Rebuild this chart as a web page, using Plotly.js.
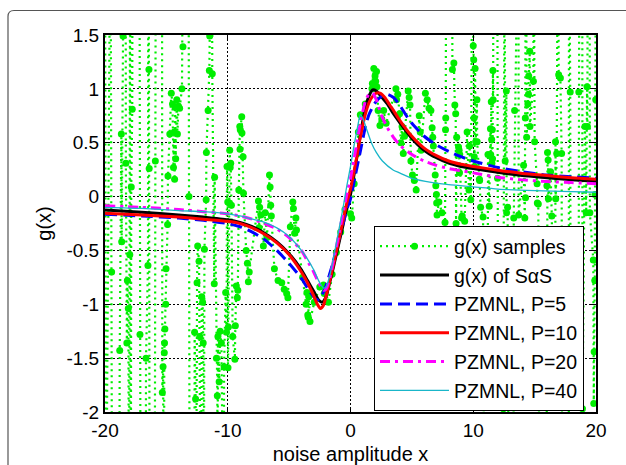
<!DOCTYPE html>
<html>
<head>
<meta charset="utf-8">
<script src="https://cdn.plot.ly/plotly-3.0.1.min.js"></script>
<style>html,body{margin:0;padding:0;background:#fff;}#chart{width:626px;height:465px;}</style>
</head>
<body>
<div id="chart"></div>
<script>
// ---- data ----
const sampleX = [-20.00,-19.92,-19.55,-19.46,-19.42,-18.85,-18.80,-18.67,-18.64,-18.53,-18.45,-18.32,-18.30,-18.22,-18.18,-18.10,-18.04,-17.98,-17.95,-17.90,-17.86,-17.78,-17.75,-17.20,-17.15,-17.10,-16.68,-16.66,-16.50,-16.47,-16.42,-16.40,-16.36,-15.95,-15.90,-15.86,-15.36,-15.33,-15.27,-15.20,-15.17,-15.15,-15.12,-15.05,-15.03,-14.90,-14.87,-14.72,-14.60,-14.50,-14.42,-14.36,-14.33,-14.28,-14.24,-14.15,-14.10,-14.02,-13.92,-13.73,-13.65,-13.62,-13.20,-13.16,-13.10,-12.72,-12.70,-12.62,-12.58,-12.50,-12.45,-12.34,-12.28,-12.18,-12.12,-12.05,-12.00,-11.95,-11.90,-11.76,-11.74,-11.60,-11.50,-11.47,-11.44,-11.30,-11.26,-11.10,-11.07,-10.92,-10.85,-10.83,-10.80,-10.70,-10.62,-10.52,-10.48,-10.32,-10.30,-10.17,-10.10,-10.06,-10.00,-9.98,-9.95,-9.88,-9.84,-9.80,-9.76,-9.70,-9.60,-9.42,-9.38,-9.30,-9.22,-9.18,-9.10,-9.02,-9.00,-8.98,-8.86,-8.84,-8.75,-8.72,-8.50,-8.40,-8.32,-8.25,-7.50,-7.45,-7.40,-7.30,-7.10,-6.95,-6.80,-6.60,-6.55,-6.50,-6.45,-6.20,-5.90,-5.60,-5.40,-5.20,-5.10,-4.90,-4.70,-4.65,-4.55,-4.45,-4.40,-3.90,-3.62,-3.55,-3.48,-3.44,-3.40,-3.30,-2.95,-2.50,-2.20,-2.14,-2.05,-1.80,-1.50,-1.15,-0.80,-0.45,0.00,0.10,0.30,0.55,0.64,0.80,1.20,1.75,1.78,1.90,2.00,2.05,2.12,2.15,2.25,2.40,2.55,2.70,2.90,3.70,3.75,3.85,4.00,4.10,4.20,4.30,4.40,4.70,4.78,4.85,4.92,5.05,5.20,5.35,5.60,5.68,5.75,6.10,6.25,6.40,6.55,6.65,6.70,6.75,6.90,6.95,7.00,7.02,7.05,7.20,7.45,7.70,7.74,7.76,7.80,8.28,8.30,8.42,8.50,8.57,8.60,8.65,8.80,8.85,8.88,8.90,9.05,9.10,9.30,9.50,9.65,9.70,9.80,9.95,10.00,10.04,10.06,10.08,10.10,10.15,10.20,10.30,10.32,10.50,10.52,10.60,10.80,10.90,11.15,11.20,11.30,11.40,11.42,11.47,11.50,11.52,11.55,11.57,11.60,11.62,11.65,11.95,11.98,12.05,12.42,12.45,12.55,12.60,12.70,12.72,12.80,12.90,13.28,13.30,13.37,13.42,13.68,13.70,14.10,14.20,14.24,14.26,14.30,14.35,14.45,14.50,14.52,14.60,14.62,14.90,14.92,15.00,15.20,15.22,15.30,15.40,15.95,16.00,16.05,16.10,16.12,16.30,16.40,16.65,16.70,16.72,16.80,16.90,16.96,17.10,17.20,17.25,17.78,17.80,17.90,17.95,18.55,18.60,18.65,18.88,18.90,19.10,19.20,19.27,19.30,19.32,19.48,19.50,19.78,19.82,19.85,19.90,19.92,19.98,20.00];
const sampleY = [3.0,-3.5,3.0,-0.70,-3.5,-3.5,-1.43,0.58,-0.42,1.49,3.0,3.0,0.31,-1.36,-0.78,-1.04,-3.5,-0.54,3.0,-3.5,0.09,0.81,3.0,3.0,-1.28,-3.5,-3.5,-1.50,-0.64,3.0,1.18,0.26,-3.5,-3.5,0.33,3.0,3.0,-1.82,-1.58,-3.5,-1.45,-1.36,-1.23,-1.00,-0.67,-0.26,0.19,0.58,0.96,0.86,0.27,0.60,0.16,0.83,0.35,0.90,0.58,0.84,0.82,1.00,1.39,3.0,3.0,0.00,-3.5,-3.5,-1.26,-1.88,-3.5,-0.80,-0.46,-0.60,-1.30,-3.5,-0.93,-0.98,-1.36,-3.5,-0.49,-0.03,0.41,0.80,1.17,1.49,3.0,3.0,1.14,-0.81,0.18,-1.50,-1.85,-3.5,-1.30,-1.72,-1.25,-1.36,-3.5,-3.5,-1.58,-0.89,-1.26,0.28,-0.05,-1.59,-1.21,-0.06,0.43,0.27,0.31,-0.08,-1.30,-1.51,-1.20,-0.83,-0.94,-0.87,0.06,0.65,0.44,0.62,0.74,0.59,0.37,0.03,-0.50,-0.62,-0.79,-0.70,-0.04,-0.29,-0.10,-0.17,-0.46,-0.15,-0.38,0.20,0.09,-0.08,-0.18,-0.67,-0.78,-0.80,-0.86,-0.90,-0.94,-0.28,-0.05,-0.11,-0.34,-0.20,-0.31,-0.75,-1.00,-0.89,-1.10,-1.12,-0.93,-1.16,-0.98,-0.84,-0.82,-0.90,-0.88,-0.98,-0.72,-0.52,-0.33,-0.12,-0.16,-0.20,0.12,0.40,0.60,0.76,0.86,1.00,1.05,1.19,1.12,1.07,1.16,1.02,0.80,0.66,0.72,0.80,0.68,1.00,0.90,0.95,0.77,0.50,0.65,0.40,0.56,0.98,0.92,0.85,0.33,0.20,0.15,0.06,0.75,0.60,0.43,0.96,0.90,0.82,0.80,0.64,0.55,0.47,0.20,0.10,0.02,-0.06,-0.17,-0.05,-0.15,-0.24,0.62,0.73,3.0,3.0,1.18,1.24,0.85,0.77,-0.25,0.55,0.46,0.43,0.22,0.39,-0.20,-0.18,-0.23,0.60,0.06,0.47,-0.03,3.0,1.40,1.27,0.73,0.37,0.28,1.19,0.51,0.90,0.51,0.16,0.15,-0.10,-0.19,-3.5,-3.5,0.39,-0.09,0.63,0.39,0.88,0.53,0.31,0.62,0.35,1.17,0.90,3.0,3.0,0.17,-3.5,-3.5,-1.97,3.0,0.33,0.98,-0.15,-0.10,-3.5,-3.5,-0.20,0.80,3.0,3.0,-0.17,0.29,-0.20,0.73,-0.01,3.0,0.55,0.86,0.95,1.12,1.35,0.65,1.07,3.0,0.51,0.12,-0.06,-0.07,-3.5,-3.5,0.10,0.41,0.34,-0.02,0.23,-0.18,-3.5,0.51,-0.02,0.40,3.0,1.13,1.10,0.40,-3.5,-3.5,3.0,0.97,-3.5,-3.5,0.97,3.0,3.0,-1.97,0.65,-0.15,1.02,0.65,3.0,3.0,-0.15,-0.59,-1.92,-1.44,-0.78,0.02,0.90,3.0];

// g(x) of SaS
const sasX = [-20,-17,-14,-12,-10,-9,-8,-7,-6,-5,-4,-3.5,-3,-2.6,-2.3,-2,-1.7,-1.4,-1,-0.6,-0.3,0,0.4,0.8,1.2,1.5,1.8,2.1,2.5,3,3.5,4,5,6,7,8,9,10,12,14,16,18,20];
const sasY = [-0.125,-0.145,-0.17,-0.19,-0.215,-0.24,-0.28,-0.34,-0.42,-0.53,-0.68,-0.78,-0.88,-0.96,-0.98,-0.93,-0.80,-0.66,-0.46,-0.26,-0.10,0.02,0.28,0.57,0.82,0.93,0.99,0.98,0.93,0.86,0.77,0.69,0.54,0.43,0.36,0.31,0.28,0.26,0.225,0.195,0.175,0.155,0.14];
// PZMNL, P=5
const p5X = [-20,-17,-14,-12,-10,-9,-8,-7,-6,-5,-4,-3.5,-3,-2.7,-2.4,-2,-1.7,-1.4,-1,-0.6,-0.3,0,0.4,0.8,1.2,1.5,2,2.5,3,3.5,4,4.5,5,6,7,8,9,10,12,14,16,18,20];
const p5Y = [-0.165,-0.18,-0.20,-0.22,-0.25,-0.28,-0.33,-0.40,-0.50,-0.62,-0.76,-0.85,-0.93,-0.96,-0.93,-0.83,-0.72,-0.60,-0.42,-0.25,-0.12,-0.02,0.20,0.42,0.64,0.76,0.87,0.93,0.95,0.92,0.85,0.76,0.68,0.56,0.48,0.42,0.37,0.33,0.27,0.23,0.20,0.185,0.17];
// PZMNL, P=10
const p10X = [-20,-17,-14,-12,-10,-9,-8,-7,-6,-5,-4,-3.5,-3,-2.7,-2.45,-2.2,-2,-1.7,-1.4,-1,-0.6,-0.3,0,0.4,0.8,1.2,1.5,1.8,2.1,2.4,2.8,3.2,3.5,4,5,6,7,8,9,10,12,14,16,18,20];
const p10Y = [-0.155,-0.17,-0.19,-0.21,-0.23,-0.25,-0.29,-0.35,-0.43,-0.54,-0.70,-0.80,-0.92,-1.00,-1.04,-1.01,-0.93,-0.79,-0.64,-0.43,-0.22,-0.06,0.07,0.30,0.55,0.76,0.87,0.93,0.96,0.96,0.92,0.85,0.80,0.71,0.56,0.45,0.38,0.33,0.30,0.28,0.245,0.215,0.195,0.175,0.16];
// PZMNL, P=20
const p20X = [-20,-17,-14,-12,-10,-9,-8,-7,-6,-5,-4,-3.5,-3,-2.6,-2.2,-2,-1.7,-1.4,-1,-0.6,-0.3,0,0.4,0.8,1.2,1.5,1.8,2.1,2.5,3,3.5,4,5,6,7,8,9,10,12,14,16,18,20];
const p20Y = [-0.085,-0.10,-0.12,-0.14,-0.16,-0.18,-0.21,-0.25,-0.30,-0.38,-0.50,-0.60,-0.70,-0.80,-0.87,-0.86,-0.76,-0.60,-0.38,-0.15,0.02,0.17,0.42,0.68,0.88,0.95,0.96,0.90,0.76,0.64,0.55,0.48,0.39,0.33,0.29,0.26,0.24,0.22,0.18,0.155,0.14,0.13,0.12];
// PZMNL, P=40
const p40X = [-20,-17,-14,-12,-10,-9,-8,-7,-6,-5,-4,-3.5,-3,-2.6,-2.2,-2,-1.7,-1.4,-1,-0.6,-0.3,0,0.3,0.6,0.8,1.0,1.3,1.7,2.1,2.6,3.5,4,5,6.7,8,10,12,15,18,20];
const p40Y = [-0.10,-0.11,-0.13,-0.14,-0.16,-0.18,-0.21,-0.24,-0.29,-0.37,-0.50,-0.58,-0.68,-0.78,-0.85,-0.84,-0.74,-0.58,-0.34,-0.10,0.10,0.28,0.48,0.66,0.76,0.73,0.63,0.50,0.41,0.33,0.245,0.22,0.17,0.13,0.11,0.09,0.07,0.055,0.045,0.04];

const xTickVals = [-20,-10,0,10,20];
const xTickText = ['-20','-10','0','10','20'];
const yTickVals = [-2,-1.5,-1,-0.5,0,0.5,1,1.5];
const yTickText = ['-2','-1.5','-1','-0.5','0','0.5','1','1.5'];
const seriesNames = ['g(x) samples','g(x) of S\u03b1S','PZMNL, P=5','PZMNL, P=10','PZMNL, P=20','PZMNL, P=40'];

// ---- figure ----
const traces = [
  {x:sampleX, y:sampleY, name:seriesNames[0], mode:'lines+markers', legendgroup:'a',
   line:{color:'#00ee00', width:2.2, dash:'2px,4px'}, marker:{color:'#00ee00', size:7}},
  {x:sasX, y:sasY, name:seriesNames[1], mode:'lines', legendgroup:'b', line:{color:'#000000', width:3, shape:'spline', smoothing:0.6}},
  {x:p5X, y:p5Y, name:seriesNames[2], mode:'lines', legendgroup:'c', line:{color:'#0000ff', width:3, dash:'12px,6px', shape:'spline', smoothing:0.6}},
  {x:p10X, y:p10Y, name:seriesNames[3], mode:'lines', legendgroup:'d', line:{color:'#ff0000', width:3, shape:'spline', smoothing:0.6}},
  {x:p20X, y:p20Y, name:seriesNames[4], mode:'lines', legendgroup:'e', line:{color:'#ff00ff', width:3, dash:'10px,5px,3px,5px', shape:'spline', smoothing:0.6}},
  {x:p40X, y:p40Y, name:seriesNames[5], mode:'lines', legendgroup:'f', line:{color:'#19b6c9', width:1.3, shape:'spline', smoothing:0.6}}
];

const L = 105, R = 30, T = 35, B = 53;
const W = 626 - L - R, H = 465 - T - B;
const px = v => (v - L) / W;
const py = v => (465 - B - v) / H;
const bx0 = px(8), by0 = py(10.5), rx = 6 / W, ry = 6 / H;

const layout = {
  width:626, height:465,
  margin:{l:L, r:R, t:T, b:B},
  paper_bgcolor:'#ffffff', plot_bgcolor:'#ffffff',
  font:{family:'"Liberation Sans", Arial, sans-serif', size:19, color:'#000'},
  showlegend:true,
  xaxis:{range:[-20,20], tickvals:xTickVals, ticktext:xTickText, ticks:'inside', ticklen:5, tickwidth:1, tickcolor:'#000',
         tickfont:{size:19}, mirror:'allticks', showline:true, linewidth:2, linecolor:'#000', showgrid:true, gridcolor:'#000', gridwidth:1,
         griddash:'2px,2px', zeroline:false, title:{text:'noise amplitude x', standoff:11, font:{size:20}}},
  yaxis:{range:[-2,1.5], tickvals:yTickVals, ticktext:yTickText, ticks:'inside', ticklen:5, tickwidth:1, tickcolor:'#000',
         tickfont:{size:19}, mirror:'allticks', showline:true, linewidth:2, linecolor:'#000', showgrid:true, gridcolor:'#000', gridwidth:1,
         griddash:'2px,2px', zeroline:false, title:{text:'g(x)', standoff:9, font:{size:20}}},
  legend:{x:px(374), y:py(226), xanchor:'left', yanchor:'top', bgcolor:'#ffffff', bordercolor:'#000', borderwidth:1,
          font:{size:19.5}, itemwidth:69, traceorder:'grouped', tracegroupgap:0.5},
  shapes:[{type:'path', xref:'paper', yref:'paper', layer:'below',
           path:`M ${bx0},-0.3 L ${bx0},${by0-ry} Q ${bx0},${by0} ${bx0+rx},${by0} L 1.3,${by0}`,
           line:{color:'#555555', width:1.2}}]
};

Plotly.newPlot('chart', traces, layout, {displayModeBar:false, staticPlot:true});
</script>
</body>
</html>
